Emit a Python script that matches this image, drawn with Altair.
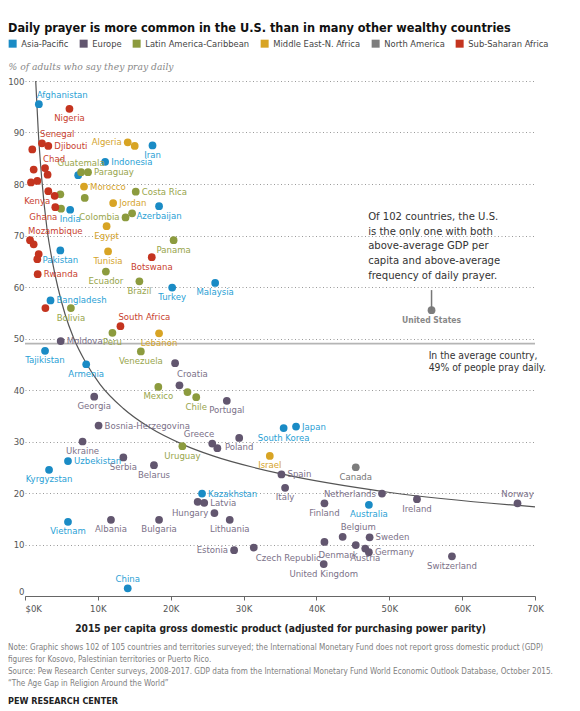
import altair as alt
import pandas as pd

F = "Liberation Sans Narrow, DejaVu Sans Condensed, Roboto, sans-serif"

regions = ["Asia-Pacific", "Europe", "Latin America-Caribbean",
           "Middle East-N. Africa", "North America", "Sub-Saharan Africa"]
dot_colors = ["#1a8bc5", "#62566f", "#8c9b3e", "#d8a424", "#7d7d7d", "#c4341f"]
label_colors = ["#2a9fd5", "#7b7188", "#98a54c", "#d5a42c", "#777777", "#c8412f"]

# GDP per capita (thousands, PPP) and % praying daily
ap_names = ["Afghanistan", "Iran", "Indonesia", "", "India", "Azerbaijan", "Pakistan",
            "Malaysia", "Turkey", "Bangladesh", "Tajikistan", "Armenia", "Uzbekistan",
            "Kyrgyzstan", "Vietnam", "China", "South Korea", "Japan", "Kazakhstan", "Australia"]
ap_gdp = [1.9, 17.5, 11.0, 7.3, 6.2, 18.4, 4.85, 26.1, 20.2, 3.5, 2.75, 8.4, 5.9,
          3.3, 5.9, 14.1, 35.5, 37.2, 24.3, 47.2]
ap_pray = [95.5, 87.5, 84.3, 81.7, 75.0, 75.7, 67.1, 60.8, 59.9, 57.4, 47.6, 45.0, 26.2,
           24.5, 14.4, 1.5, 32.6, 32.9, 19.9, 17.7]

eu_names = ["Moldova", "Croatia", "", "Portugal", "Georgia", "Bosnia-Herzegovina", "Ukraine",
            "Serbia", "Belarus", "Greece", "", "Poland", "Spain", "Italy", "Netherlands", "",
            "Latvia", "Hungary", "Lithuania", "Finland", "Estonia", "Czech Republic", "",
            "Denmark", "Belgium", "Sweden", "Austria", "Germany", "United Kingdom", "Ireland",
            "Norway", "Switzerland", "Albania", "Bulgaria"]
eu_gdp = [4.9, 20.6, 21.2, 27.7, 9.5, 10.1, 7.9, 13.5, 17.7, 25.7, 26.4, 29.4, 35.2, 35.7,
          49.0, 23.7, 24.6, 26.0, 28.1, 41.1, 28.7, 31.4, 41.1, 45.4, 43.6, 47.3, 46.7, 47.2,
          41.0, 53.8, 67.6, 58.6, 11.8, 18.4]
eu_pray = [49.5, 45.2, 40.9, 37.9, 38.7, 33.1, 30.0, 26.9, 25.4, 29.6, 28.7, 30.7, 23.6, 21.0,
           19.9, 18.3, 18.1, 16.1, 14.8, 18.0, 8.9, 9.4, 10.5, 9.9, 11.5, 11.4, 9.2, 8.5,
           6.2, 18.8, 18.0, 7.7, 14.8, 14.8]

la_names = ["Guatemala", "Paraguay", "", "", "", "Costa Rica", "Colombia", "", "Panama",
            "Ecuador", "Brazil", "Bolivia", "Peru", "Venezuela", "Mexico", "", "Chile", "Uruguay"]
la_gdp = [7.7, 8.65, 4.85, 4.95, 8.2, 15.2, 13.8, 14.7, 20.4, 11.1, 15.7, 6.3, 12.0, 15.9,
          18.3, 22.3, 23.5, 21.6]
la_pray = [82.3, 82.3, 78.0, 75.2, 77.3, 78.5, 73.5, 74.3, 69.1, 63.0, 61.1, 55.9, 51.1, 47.5,
           40.6, 39.6, 38.6, 29.1]

me_names = ["Algeria", "", "Morocco", "Jordan", "Egypt", "Tunisia", "Lebanon", "Israel"]
me_gdp = [14.1, 15.06, 8.1, 12.1, 11.2, 11.4, 18.4, 33.6]
me_pray = [88.1, 87.4, 79.5, 76.3, 71.8, 66.9, 51.0, 27.2]

na_names = ["Canada", "United States"]
na_gdp = [45.4, 55.8]
na_pray = [25.0, 55.5]

ssa_names = ["Nigeria", "Senegal", "Djibouti", "", "Chad", "", "", "", "", "Kenya", "",
             "Ghana", "Mozambique", "", "", "", "Rwanda", "", "South Africa", "Botswana"]
ssa_gdp = [6.1, 2.33, 3.2, 1.0, 2.75, 1.19, 3.1, 0.82, 1.69, 3.2, 4.07, 4.16, 0.69, 1.19,
           1.88, 1.69, 1.74, 2.8, 13.1, 17.4]
ssa_pray = [94.6, 87.9, 87.4, 86.7, 83.1, 82.8, 81.8, 80.3, 80.6, 78.6, 77.7, 75.5, 69.1,
            68.3, 66.4, 65.4, 62.5, 55.9, 52.4, 65.8]

# fitted trend curve
curve_gdp = [1.47, 1.83, 2.3, 3.0, 3.7, 4.5, 5.5, 6.7, 8.4, 10.3, 13.5, 17.0, 21.7, 25.8,
             35.2, 50.1, 70.0]
curve_pray = [100, 90, 81, 71.5, 65.4, 60, 54.7, 50, 45.2, 41.1, 36.4, 32.8, 29.4, 27.2,
              23.7, 20.1, 17.3]

average = 49

# label placement keyword per labelled country
label_pos = {
    "Afghanistan": "tr", "Nigeria": "b", "Senegal": "tr", "Djibouti": "r", "Chad": "tr",
    "Kenya": "bl", "Ghana": "bl", "India": "b", "Guatemala": "t", "Paraguay": "r",
    "Indonesia": "r", "Algeria": "l", "Iran": "b", "Morocco": "r", "Costa Rica": "r",
    "Jordan": "r", "Azerbaijan": "b", "Colombia": "l", "Egypt": "b", "Panama": "b",
    "Mozambique": "tr", "Pakistan": "b", "Rwanda": "r", "Tunisia": "b", "Botswana": "b",
    "Ecuador": "b", "Brazil": "b", "Turkey": "b", "Malaysia": "b", "Bangladesh": "r",
    "Bolivia": "b", "South Africa": "tr", "Peru": "b", "Lebanon": "b", "Moldova": "r",
    "Tajikistan": "b", "Venezuela": "b", "Armenia": "b", "Croatia": "br", "Mexico": "b",
    "Chile": "b", "Portugal": "b", "Georgia": "b", "Bosnia-Herzegovina": "r", "Ukraine": "b",
    "Uzbekistan": "r", "Kyrgyzstan": "b", "Serbia": "b", "Belarus": "b", "Uruguay": "b",
    "Greece": "tl", "Poland": "b", "South Korea": "b", "Japan": "r", "Israel": "b",
    "Spain": "r", "Italy": "b", "Canada": "b", "Netherlands": "l", "Kazakhstan": "r",
    "Latvia": "r", "Hungary": "l", "Lithuania": "b", "Finland": "b", "Australia": "b",
    "Estonia": "l", "Czech Republic": "br", "Denmark": "bl", "Belgium": "tr", "Sweden": "r",
    "Austria": "b", "Germany": "r", "United Kingdom": "b", "Ireland": "b", "Norway": "t",
    "Switzerland": "b", "Vietnam": "b", "Albania": "b", "Bulgaria": "b", "China": "t",
}

placements = {
    "r": dict(align="left", dx=6, dy=0),
    "l": dict(align="right", dx=-6, dy=0),
    "t": dict(align="center", dx=0, dy=-9.5),
    "b": dict(align="center", dx=0, dy=9.5),
    "tr": dict(align="left", dx=-2, dy=-9.5),
    "tl": dict(align="right", dx=2, dy=-9.5),
    "br": dict(align="left", dx=2, dy=10.5),
    "bl": dict(align="right", dx=2, dy=9.5),
}

rows = []
for reg, names, gdp, pray in [
    (regions[0], ap_names, ap_gdp, ap_pray),
    (regions[1], eu_names, eu_gdp, eu_pray),
    (regions[2], la_names, la_gdp, la_pray),
    (regions[3], me_names, me_gdp, me_pray),
    (regions[4], na_names, na_gdp, na_pray),
    (regions[5], ssa_names, ssa_gdp, ssa_pray),
]:
    for n, g, p in zip(names, gdp, pray):
        rows.append({"country": n, "gdp": g, "pray": p, "region": reg,
                     "pos": label_pos.get(n, "")})
df = pd.DataFrame(rows)
curve_df = pd.DataFrame({"gdp": curve_gdp, "pray": curve_pray})
avg_df = pd.DataFrame({"avg": [average]})

X = alt.X("gdp:Q", scale=alt.Scale(domain=[0, 70], nice=False),
          axis=alt.Axis(values=list(range(0, 75, 5)),
                        labelExpr="datum.value == 0 ? '$0K' : datum.value + 'K'",
                        labelAlign={"expr": "datum.value == 0 ? 'left' : 'center'"},
                        labelFont=F, labelFontSize=9.5, labelColor="#555",
                        labelPadding=3, tickSize=4, tickColor="#666", domainColor="#666",
                        grid=False,
                        title="2015 per capita gross domestic product (adjusted for purchasing power parity)",
                        titleFont=F, titleFontSize=10.2, titleFontWeight="bold",
                        titleColor="#222", titlePadding=11))
Y = alt.Y("pray:Q", scale=alt.Scale(domain=[0, 100], nice=False),
          axis=alt.Axis(values=list(range(0, 101, 10)), domain=False, ticks=False,
                        tickSize=0, labelPadding=1, labelFont=F, labelFontSize=9.5,
                        labelColor="#555",
                        labelBaseline={"expr": "datum.value == 0 ? 'bottom' : 'middle'"},
                        gridColor="#9a9a9a", gridDash=[1, 2.5], gridWidth=1,
                        title="% of adults who say they pray daily", titleAngle=0,
                        titleAlign="left", titleBaseline="middle", titleX=-17, titleY=-15,
                        titleFont="DejaVu Serif", titleFontStyle="italic",
                        titleFontWeight="normal", titleFontSize=9.2, titleColor="#888"))

base = alt.Chart(df)

avg_rule = alt.Chart(avg_df).mark_rule(color="#b5b5b5", strokeWidth=1.6).encode(y="avg:Q")

curve = alt.Chart(curve_df).mark_line(color="#555", strokeWidth=1.2,
                                      interpolate="monotone").encode(x="gdp:Q", y="pray:Q")

points = base.mark_circle(size=60, opacity=1).encode(
    x=X, y=Y,
    color=alt.Color("region:N", scale=alt.Scale(domain=regions, range=dot_colors),
                    legend=alt.Legend(orient="none", legendX=-17, legendY=-42,
                                      direction="horizontal", title=None,
                                      symbolType="square", symbolSize=64,
                                      symbolStrokeWidth=0, symbolOpacity=1,
                                      labelFont=F, labelFontSize=9.3, labelColor="#444",
                                      columnPadding=10, labelOffset=4)))

label_layers = []
for code, p in placements.items():
    label_layers.append(
        base.transform_filter(alt.datum.pos == code).mark_text(
            font=F, fontSize=9.5, baseline="middle", **p).encode(
            x="gdp:Q", y="pray:Q", text="country:N",
            color=alt.Color("region:N", scale=alt.Scale(domain=regions, range=label_colors),
                            legend=None)))

us_df = df[df.country == "United States"]
us_line = alt.Chart(us_df).mark_rule(color="#777", strokeWidth=1.5).encode(
    x="gdp:Q", y=alt.Y("top:Q"), y2="pray:Q").transform_calculate(top="datum.pray + 3.9")
us_label = alt.Chart(us_df).mark_text(font=F, fontSize=8.5, fontWeight="bold", color="#888",
                                      baseline="middle", dy=10).encode(
    x="gdp:Q", y="pray:Q", text="country:N")

ann_df = pd.DataFrame({
    "gdp": [47.1, 55.4],
    "pray": [74.8, 47.6],
    "txt": [["Of 102 countries, the U.S.", "is the only one with both",
             "above-average GDP per", "capita and above-average",
             "frequency of daily prayer."],
            ["In the average country,", "49% of people pray daily."]],
})
ann1 = alt.Chart(ann_df.iloc[[0]]).mark_text(font=F, fontSize=11.2, color="#333",
                                            align="left", baseline="top",
                                            lineHeight=14.8).encode(
    x="gdp:Q", y="pray:Q", text="txt")
ann2 = alt.Chart(ann_df.iloc[[1]]).mark_text(font=F, fontSize=10.3, color="#333",
                                            align="left", baseline="top",
                                            lineHeight=12.5).encode(
    x="gdp:Q", y="pray:Q", text="txt")

notes = ["Note: Graphic shows 102 of 105 countries and territories surveyed; the International Monetary Fund does not report gross domestic product (GDP)",
         "figures for Kosovo, Palestinian territories or Puerto Rico.",
         "Source: Pew Research Center surveys, 2008-2017. GDP data from the International Monetary Fund World Economic Outlook Database, October 2015.",
         "\u201cThe Age Gap in Religion Around the World\u201d"]
notes_df = pd.DataFrame({"t": [notes]})
notes_layer = alt.Chart(notes_df).mark_text(font=F, fontSize=8.1, color="#808080",
                                            align="left", baseline="middle",
                                            lineHeight=12).encode(
    text="t", x=alt.value(-17), y=alt.value(567))
pew_layer = alt.Chart(pd.DataFrame({"t": ["PEW RESEARCH CENTER"]})).mark_text(
    font=F, fontSize=9, fontWeight="bold", color="#222", align="left",
    baseline="middle").encode(text="t:N", x=alt.value(-17), y=alt.value(620))

chart = alt.layer(
    avg_rule, curve, points, *label_layers, us_line, us_label, ann1, ann2,
    notes_layer, pew_layer
).resolve_scale(color="independent").properties(
    width=510, height=515,
    autosize=alt.AutoSizeParams(type="none"),
    padding={"left": 17, "top": 73, "right": 37, "bottom": 112},
    title=alt.TitleParams(
        "Daily prayer is more common in the U.S. than in many other wealthy countries",
        anchor="start", font=F, fontSize=12.6, fontWeight="bold", color="#111",
        dx=-17, frame="group"),
).configure_view(stroke=None)

chart.save("out.html", embed_options={"renderer": "svg", "actions": False})
